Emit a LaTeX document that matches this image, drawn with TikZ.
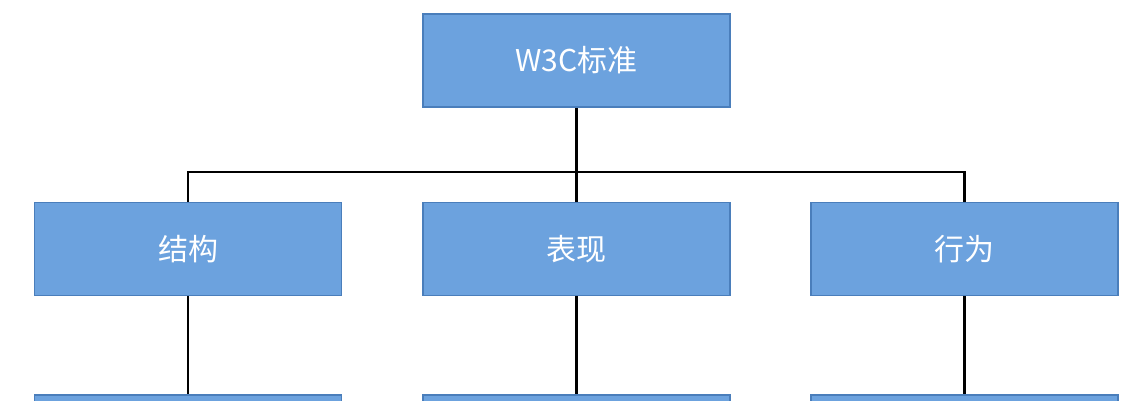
\documentclass[tikz,border=0pt]{standalone}
\usepackage{fontspec}
\newfontfamily\cjk{Noto Sans CJK SC}
\definecolor{boxfill}{HTML}{6CA2DE}
\definecolor{boxline}{HTML}{4A7EBB}
\begin{document}
\begin{tikzpicture}[x=1pt,y=-1pt,
  box/.style={draw=boxline,fill=boxfill,line width=1.5pt,minimum width=307pt,minimum height=93pt,inner sep=0pt,text=white,font=\cjk\fontsize{30}{36}\selectfont},
  conn/.style={line width=2.2pt,black}]
\useasboundingbox (0,0) rectangle (1134,400);
\node[box] (top) at (576.5,60.5) {W3C标准};
\node[box] (l) at (188,249) {结构};
\node[box] (m) at (576.5,249) {表现};
\node[box] (r) at (964.5,249) {行为};
\node[box,anchor=north] (bl) at (188,394) {};
\node[box,anchor=north] (bm) at (576.5,394) {};
\node[box,anchor=north] (br) at (964.5,394) {};
\coordinate (h) at (576.5,172);
\draw[conn] (top.south) -- (h);
\draw[conn] (l.north) |- (h) -| (r.north);
\draw[conn] (h) -- (m.north);
\draw[conn] (l.south) -- (bl.north);
\draw[conn] (m.south) -- (bm.north);
\draw[conn] (r.south) -- (br.north);
\end{tikzpicture}
\end{document}
